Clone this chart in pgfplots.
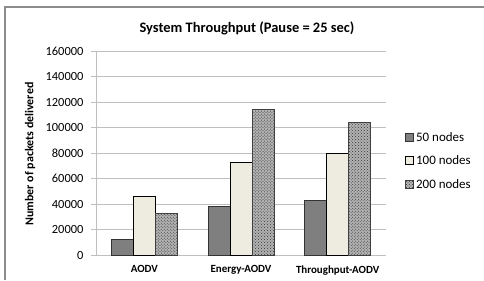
\documentclass[border=0pt]{standalone}
\usepackage{pgfplots}
\pgfplotsset{compat=1.18}
\usetikzlibrary{patterns}
\usepackage{fontspec}
\setmainfont{Carlito}
\definecolor{darkbar}{HTML}{7F7F7F}
\definecolor{cream}{HTML}{EEECE1}
\definecolor{gridc}{HTML}{BFBFBF}
\definecolor{framec}{HTML}{8C8C8C}
\begin{document}
\begin{tikzpicture}[x=1bp,y=1bp]
\path[use as bounding box] (0,0) rectangle (484,280);
\draw[framec, line width=1.2bp] (5,0) -- (5,273) -- (484,273);
\node[font=\fontsize{14.5}{16}\selectfont\bfseries] at (247,252) {System Throughput (Pause = 25 sec)};
\node[font=\fontsize{12}{14}\selectfont\bfseries, rotate=90] at (30,126) {Number of packets delivered};
\begin{axis}[
  at={(96bp,25bp)}, anchor=south west,
  scale only axis, width=290bp, height=204bp,
  ybar=0pt, bar width=22bp,
  xmin=-0.5, xmax=2.5, ymin=0, ymax=160000,
  xtick={0,1,2}, xticklabels={AODV, Energy-AODV, Throughput-AODV},
  ytick={0,20000,...,160000},
  scaled y ticks=false,
  /pgf/number format/fixed, /pgf/number format/1000 sep={},
  /pgf/number format/assume math mode=true,
  axis x line*=bottom, axis y line*=left,
  axis line style={gridc, line width=1bp},
  ymajorgrids, major grid style={gridc, line width=1bp},
  tick align=outside,
  x tick style={draw=none}, y tick style={gridc, line width=1bp},
  major tick length=5bp,
  ticklabel style={text=black},
  y tick label style={font=\fontsize{12.5}{14}\selectfont, xshift=-4bp},
  x tick label style={font=\fontsize{11}{13}\selectfont\bfseries, yshift=-2bp},
  legend style={at={(1.066,0.613)}, anchor=north west, draw=none, fill=none,
    font=\fontsize{13}{15}\selectfont, row sep=9bp, inner sep=0pt,
    /tikz/every even column/.append style={column sep=0pt}},
  legend cell align=left,
  legend image code/.code={\draw[#1] (0bp,-4bp) rectangle (8bp,4bp);},
]
\addplot[fill=darkbar, draw=black!80, line width=0.8bp] coordinates {(0,12000) (1,38000) (2,43000)};
\addplot[fill=cream, draw=black, line width=0.8bp] coordinates {(0,46000) (1,72500) (2,80000)};
\addplot[fill=black!30, draw=black!75, line width=0.8bp, postaction={pattern=crosshatch dots, pattern color=black!80}] coordinates {(0,32500) (1,114000) (2,104000)};
\legend{50 nodes, 100 nodes, 200 nodes}
\end{axis}
\end{tikzpicture}
\end{document}
